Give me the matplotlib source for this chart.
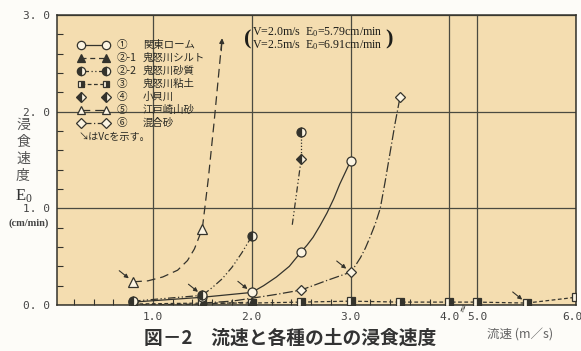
import numpy as np
import matplotlib
matplotlib.use("Agg")
import matplotlib.pyplot as plt
from matplotlib.lines import Line2D
from matplotlib.transforms import ScaledTranslation

plt.rcParams['font.family'] = ['Noto Sans CJK JP', 'DejaVu Sans']
plt.rcParams['mathtext.fontset'] = 'custom'
plt.rcParams['mathtext.rm'] = 'Liberation Serif'
plt.rcParams['mathtext.it'] = 'Liberation Serif'

# ---- data: flow velocity (m/s) and erosion rate E0 (cm/min) ----
# (1) Kanto loam
v_kanto = [0.8, 1.5, 2.0, 2.5, 3.0]
e_kanto = [0.03, 0.08, 0.13, 0.55, 1.49]
v_kanto_line = [0.8, 1.5, 2.0, 2.12, 2.25, 2.38, 2.5, 2.56, 2.62, 2.69, 2.76, 2.83, 2.89, 2.95, 3.0]
e_kanto_line = [0.03, 0.08, 0.13, 0.20, 0.29, 0.40, 0.55, 0.62, 0.70, 0.82, 0.95, 1.10, 1.25, 1.38, 1.49]

# (2)-1 Kinu river silt
v_silt = [0.8, 1.5, 2.0]
e_silt = [0.00, 0.01, 0.03]

# (2)-2 Kinu river sandy soil
v_sandy = [0.8, 1.5, 2.0, 2.5]
e_sandy = [0.04, 0.10, 0.71, 1.79]
v_sandy_line = [0.8, 1.5, 1.6, 1.7, 1.8, 1.9, 2.0]
e_sandy_line = [0.04, 0.10, 0.18, 0.27, 0.39, 0.54, 0.71]

# (3) Kinu river clay
v_clay = [0.8, 1.5, 2.0, 2.5, 3.0, 3.5, 4.0, 5.0, 5.5, 6.0]
e_clay = [0.01, 0.02, 0.02, 0.03, 0.04, 0.03, 0.03, 0.03, 0.02, 0.08]

# (4) Kokai river
v_kokai = [2.5]
e_kokai = [1.51]
v_kokai_line = [2.41, 2.5]
e_kokai_line = [0.83, 1.51]
v_kokai_top = [2.5, 2.5]
e_kokai_top = [1.51, 1.79]

# (5) Edosaki pit sand
v_edo = [0.8, 1.5]
e_edo = [0.24, 0.79]
v_edo_line = [0.8, 0.95, 1.1, 1.25, 1.35, 1.42, 1.5, 1.56, 1.62, 1.7]
e_edo_line = [0.24, 0.25, 0.29, 0.36, 0.46, 0.58, 0.79, 1.30, 1.90, 2.76]

# (6) mixed sand
v_mix = [2.5, 3.0, 3.5]
e_mix = [0.155, 0.34, 2.15]
v_mix_line = [1.5, 1.8, 2.0, 2.25, 2.5, 2.75, 3.0, 3.05, 3.1, 3.15, 3.2, 3.25, 3.3, 3.35, 3.4, 3.45, 3.5]
e_mix_line = [0.02, 0.04, 0.07, 0.11, 0.155, 0.25, 0.34, 0.41, 0.49, 0.59, 0.71, 0.84, 1.00, 1.28, 1.58, 1.88, 2.15]

# critical velocity Vc markers
vc_v = [0.8, 1.5, 2.0, 3.0, 5.5]
vc_e = [0.24, 0.10, 0.13, 0.34, 0.02]

x_ticks = [1.0, 2.0, 3.0, 4.0, 5.0, 6.0]
x_ticklabels = ['1.0', '2.0', '3.0', '4.0', '5.0', '6.0']
y_ticks = [0.0, 1.0, 2.0, 3.0]
y_ticklabels = ['0. 0', '1. 0', '2. 0', '3. 0']

legend_nums = ['①', '②-1', '②-2', '③', '④', '⑤', '⑥']
legend_names = ['関東ローム', '鬼怒川シルト', '鬼怒川砂質', '鬼怒川粘土',
                '小貝川', '江戸崎山砂', '混合砂']

INK = '#34332c'
BG = '#f4ddb0'
LW = 0.9


# broken velocity axis: 4.0 -> 5.0 squeezed
def fwd(v):
    v = np.asarray(v, dtype=float)
    return np.where(v <= 4, v, np.where(v >= 5, v - 0.72, 4 + 0.28 * (v - 4)))


def inv(p):
    p = np.asarray(p, dtype=float)
    return np.where(p <= 4, p, np.where(p >= 4.28, p + 0.72, 4 + (p - 4) / 0.28))


W, H = 581, 351
fig = plt.figure(figsize=(W / 100, H / 100), dpi=100)
fig.patch.set_facecolor('#fdfcf8')


def fx(px):
    return px / W


def fy(py):
    return 1 - py / H


ax = fig.add_axes([fx(57), fy(305), (576 - 57) / W, (305 - 15) / H])
ax.set_facecolor(BG)
ax.set_xscale('function', functions=(fwd, inv))
ax.set_xlim(0.03, 6.0)
ax.set_ylim(0, 3.0)

for s in ax.spines.values():
    s.set_color(INK)
    s.set_linewidth(1.1)

ax.set_xticks(x_ticks)
ax.set_xticklabels(x_ticklabels, family='DejaVu Sans Mono', fontsize=8, color='#444')
ax.set_yticks(y_ticks)
ax.set_yticklabels(y_ticklabels, family='DejaVu Sans Mono', fontsize=8, color='#444')
ax.set_xticks([v for v in np.arange(0.2, 4.0, 0.2) if abs(v - round(v)) > 1e-6], minor=True)
ax.set_yticks([v for v in np.arange(0.2, 3.0, 0.2) if abs(v - round(v)) > 1e-6], minor=True)
ax.tick_params(which='major', length=0, pad=5)
ax.tick_params(which='minor', direction='in', length=4, width=0.8, color=INK)
ax.grid(True, which='major', color='#4a4a40', lw=0.9)
# keep the last velocity label inside the page
last = ax.get_xticklabels()[-1]
last.set_transform(last.get_transform() + ScaledTranslation(-0.04, 0, fig.dpi_scale_trans))

mk = dict(markersize=6.5, markeredgewidth=0.9, markeredgecolor=INK)
OPEN = '#fbf4e2'

styles = {
    'kanto': dict(ls='-', marker='o', markerfacecolor=OPEN),
    'silt': dict(ls=(0, (4, 3)), marker='^', markersize=6, markerfacecolor=INK),
    'sandy': dict(ls=(0, (6, 2, 1, 2, 1, 2)), marker='o', fillstyle='left',
                  markerfacecolor=INK, markerfacecoloralt=OPEN),
    'clay': dict(ls=(0, (3, 2)), marker='s', fillstyle='right', markersize=5.5,
                 markerfacecolor=INK, markerfacecoloralt=OPEN),
    'kokai': dict(ls='none', marker='D', fillstyle='left', markersize=5.5,
                  markerfacecolor=INK, markerfacecoloralt=OPEN),
    'edo': dict(ls=(0, (7, 4)), marker='^', markerfacecolor=OPEN),
    'mix': dict(ls=(0, (8, 2, 1, 2)), marker='D', markersize=5.5, markerfacecolor=OPEN),
}


def draw(v_line, e_line, v_pts, e_pts, key):
    st = dict(styles[key])
    ls = st.pop('ls')
    if v_line is not None:
        ax.plot(v_line, e_line, ls=ls, color=INK, lw=LW, zorder=3)
    mst = dict(mk)
    mst.update(st)
    ax.plot(v_pts, e_pts, ls='none', color=INK, zorder=4, **mst)


draw(v_clay, e_clay, v_clay, e_clay, 'clay')
draw(v_silt, e_silt, v_silt, e_silt, 'silt')
draw(v_mix_line, e_mix_line, v_mix, e_mix, 'mix')
draw(v_kanto_line, e_kanto_line, v_kanto, e_kanto, 'kanto')
draw(v_sandy_line, e_sandy_line, v_sandy, e_sandy, 'sandy')
draw(v_edo_line, e_edo_line, v_edo, e_edo, 'edo')
ax.plot(v_kokai_line, e_kokai_line, ls=(0, (5, 2, 1, 2, 1, 2)), color=INK, lw=LW, zorder=3)
ax.plot(v_kokai_top, e_kokai_top, ls=(0, (1, 1.5)), color=INK, lw=LW, zorder=3)
draw(None, None, v_kokai, e_kokai, 'kokai')

# arrow at the upper end of the Edosaki curve (continues off the chart)
ax.annotate('', xy=(v_edo_line[-1], e_edo_line[-1]), xytext=(-0.6, -9),
            textcoords='offset points',
            arrowprops=dict(arrowstyle='-|>', color=INK, lw=0.9,
                            mutation_scale=7, shrinkA=0, shrinkB=0))

# Vc arrows
for v, e in zip(vc_v, vc_e):
    ax.annotate('', xy=(v, e), xytext=(-10, 8), textcoords='offset points',
                arrowprops=dict(arrowstyle='-|>', color=INK, lw=0.8,
                                mutation_scale=6, shrinkA=0, shrinkB=4))

# axis break mark between 4.0 and 5.0
ax.text(4.5, -0.02, '≈', transform=ax.transData, rotation=70, ha='center',
        va='center', fontsize=8, color=INK, family='DejaVu Sans', clip_on=False)

# off-chart values
ax_text = dict(family='Liberation Serif', fontsize=8.6, color='#1e1e1a')
fig.text(fx(252), fy(32), r'V=2.0m/s  E$_0$=5.79cm/min', va='center', ha='left', **ax_text)
fig.text(fx(252), fy(45), r'V=2.5m/s  E$_0$=6.91cm/min', va='center', ha='left', **ax_text)
fig.text(fx(248), fy(39), '(', va='center', ha='center', family='Liberation Serif',
         fontsize=16, fontweight='bold', color='#1e1e1a')
fig.text(fx(389), fy(39), ')', va='center', ha='center', family='Liberation Serif',
         fontsize=16, fontweight='bold', color='#1e1e1a')

# legend drawn as a table: sample line, number, name
legend_keys = ['kanto', 'silt', 'sandy', 'clay', 'kokai', 'edo', 'mix']
row_y = [45, 58, 71, 84, 97, 110, 123]
for key, num, name, y in zip(legend_keys, legend_nums, legend_names, row_y):
    st = dict(styles[key])
    ls = st.pop('ls')
    mst = dict(mk)
    mst.update(st)
    mst['markersize'] = mst['markersize'] - 0.5
    ln = Line2D([fx(81), fx(106)], [fy(y), fy(y)], transform=fig.transFigure,
                ls=ls, color=INK, lw=LW, **mst)
    fig.add_artist(ln)
    fig.text(fx(117), fy(y), num, va='center', ha='left', fontsize=7.6, color='#2a2a24')
    fig.text(fx(143), fy(y), name, va='center', ha='left', fontsize=7.5, color='#2a2a24')
fig.text(fx(78), fy(137), '↘はVcを示す。', va='center', ha='left', fontsize=7.3, color='#2a2a24',
         family=['Noto Sans CJK JP', 'DejaVu Sans'])

# y axis label
for ch, y in zip('浸食速度', [125, 142, 159, 176]):
    fig.text(fx(23), fy(y), ch, ha='center', va='center', fontsize=10, color='#555')
fig.text(fx(24), fy(196), r'E$_0$', ha='center', va='center', fontsize=12,
         family='Liberation Serif', color='#333')
fig.text(fx(29), fy(223), '(cm/min)', ha='center', va='center', fontsize=7.5,
         family='Liberation Serif', fontweight='bold', color='#444')

# x axis label and caption
fig.text(fx(520), fy(335), '流速 (m／s)', ha='center', va='center', fontsize=9, color='#666')
fig.text(fx(290), fy(338), '図－2　流速と各種の土の浸食速度', ha='center', va='center',
         fontsize=13.5, fontweight='bold', color='#333')

fig.savefig('out.png', dpi=100, facecolor=fig.get_facecolor())
